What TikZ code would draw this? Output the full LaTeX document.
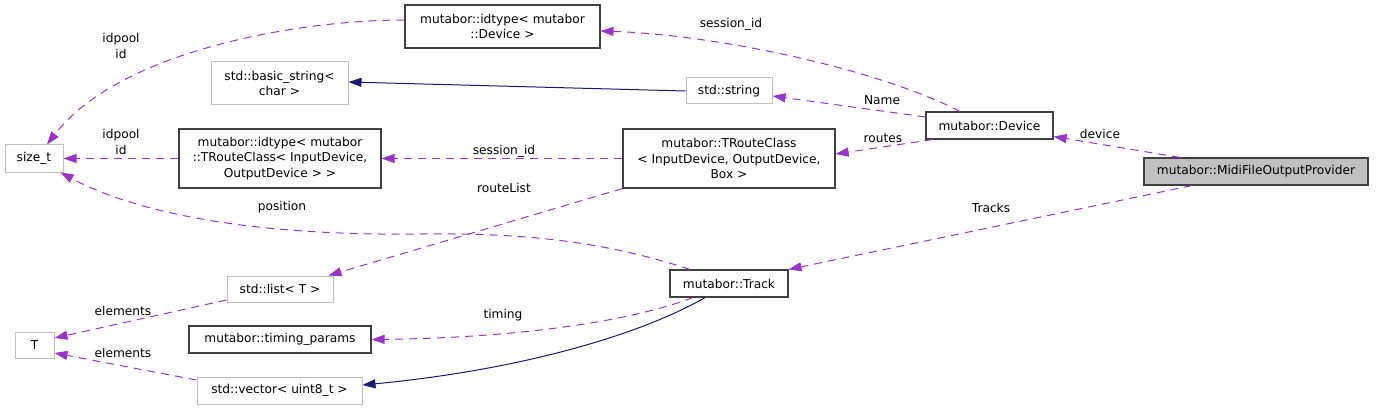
\documentclass[tikz,border=0pt]{standalone}
\usepackage{fontspec}
\setmainfont{DejaVu Sans}
\usetikzlibrary{arrows.meta}
\definecolor{edgep}{HTML}{9A32CD}
\definecolor{navyc}{HTML}{191970}
\definecolor{extgray}{HTML}{C0C0C0}
\definecolor{boxdark}{HTML}{404040}
\begin{document}
\begin{tikzpicture}[x=1pt,y=-1pt,
  txt/.style={font=\fontsize{12.2}{15.5}\selectfont},
  box/.style={txt, draw=boxdark, line width=1.1pt, fill=white, inner sep=0pt, align=center},
  ext/.style={box, draw=extgray, line width=1pt},
  main/.style={box, fill=extgray},
  dep/.style={draw=edgep, line width=1pt, dash pattern=on 8pt off 6pt, -{Triangle[length=13pt,width=9pt]}},
  inh/.style={draw=navyc, line width=1pt, -{Triangle[length=13pt,width=9pt]}},
  lbl/.style={txt, inner sep=0pt, align=center}]
\useasboundingbox (0,0) rectangle (1381,409);
% nodes
\node[box, minimum width=195pt, minimum height=43pt] (idDev) at (502.5,26.5) {mutabor::idtype< mutabor\\::Device >};
\node[ext, minimum width=137pt, minimum height=43pt] (bstr) at (279.5,83.5) {std::basic\_string<\\char >};
\node[ext, minimum width=86pt, minimum height=26pt] (str) at (729,91) {std::string};
\node[ext, minimum width=58pt, minimum height=27pt] (sizet) at (34,158.5) {size\_t};
\node[box, minimum width=202pt, minimum height=59pt] (idTR) at (280,158.5) {mutabor::idtype< mutabor\\::TRouteClass< InputDevice,\\OutputDevice > >};
\node[box, minimum width=212pt, minimum height=59pt] (TRC) at (729,158.5) {mutabor::TRouteClass\\< InputDevice, OutputDevice,\\Box >};
\node[box, minimum width=127pt, minimum height=27pt] (dev) at (989.5,125.5) {mutabor::Device};
\node[main, minimum width=224pt, minimum height=27pt] (midi) at (1256,171.5) {mutabor::MidiFileOutputProvider};
\node[box, minimum width=118pt, minimum height=27pt] (track) at (729,283.5) {mutabor::Track};
\node[ext, minimum width=106pt, minimum height=26pt] (list) at (280,289) {std::list< T >};
\node[ext, minimum width=39pt, minimum height=26pt] (T) at (34.5,345) {T};
\node[box, minimum width=182pt, minimum height=27pt] (tp) at (280,339.5) {mutabor::timing\_params};
\node[ext, minimum width=165pt, minimum height=27pt] (vec) at (279.5,390.5) {std::vector< uint8\_t >};
% connectors
\draw[dep] ([xshift=-29.5pt]dev.north) .. controls (880,70) and (720,35) .. ([yshift=-4.5pt]idDev.east);
\draw[dep] ([yshift=8.5pt]dev.west) -- ([yshift=-5pt]str.east);
\draw[inh] (str.west) -- ([yshift=1.5pt]bstr.east);
\draw[dep] ([yshift=6.5pt]idDev.west) .. controls (300,20) and (120,50) .. ([xshift=13pt]sizet.north);
\draw[dep] (idTR.west) -- (sizet.east);
\draw[dep] (TRC.west) -- (idTR.east);
\draw[dep] ([xshift=7pt]dev.south west) -- ([yshift=4.5pt]TRC.east);
\draw[dep] ([xshift=-76pt]midi.north) -- ([yshift=-11pt]dev.east);
\draw[dep] ([xshift=-64pt]midi.south) -- (track.north east);
\draw[dep] (TRC.south west) -- ([xshift=-5pt]list.north east);
\draw[dep] ([xshift=-39pt]track.north) .. controls (600,240) and (520,233) .. (420,234) .. controls (260,236) and (140,215) .. ([xshift=-3pt]sizet.south east);
\draw[dep] ([xshift=-36pt]track.south) .. controls (620,325) and (500,338) .. (tp.east);
\draw[inh] ([xshift=-24pt]track.south) .. controls (640,335) and (520,370) .. ([yshift=5.5pt]vec.east);
\draw[dep] ([yshift=-11pt]list.west) -- ([yshift=7pt]T.east);
\draw[dep] ([yshift=10.5pt]vec.west) -- ([yshift=-8pt]T.east);
% labels
\node[lbl] (l1) at (731,24) {session\_id};
\node[lbl] (l2) at (882,100) {Name};
\node[lbl] (l3) at (883,138) {routes};
\node[lbl] (l4) at (1100,134) {device};
\node[lbl] (l5) at (991,208) {Tracks};
\node[lbl] (l6) at (504,151) {session\_id};
\node[lbl] (l7) at (504,188) {routeList};
\node[lbl] (l8) at (121,46) {idpool\\id};
\node[lbl] (l9) at (121,142) {idpool\\id};
\node[lbl] (l10) at (282,207) {position};
\node[lbl] (l11) at (123,311) {elements};
\node[lbl] (l12) at (123,353) {elements};
\node[lbl] (l13) at (503,315) {timing};
\end{tikzpicture}
\end{document}
